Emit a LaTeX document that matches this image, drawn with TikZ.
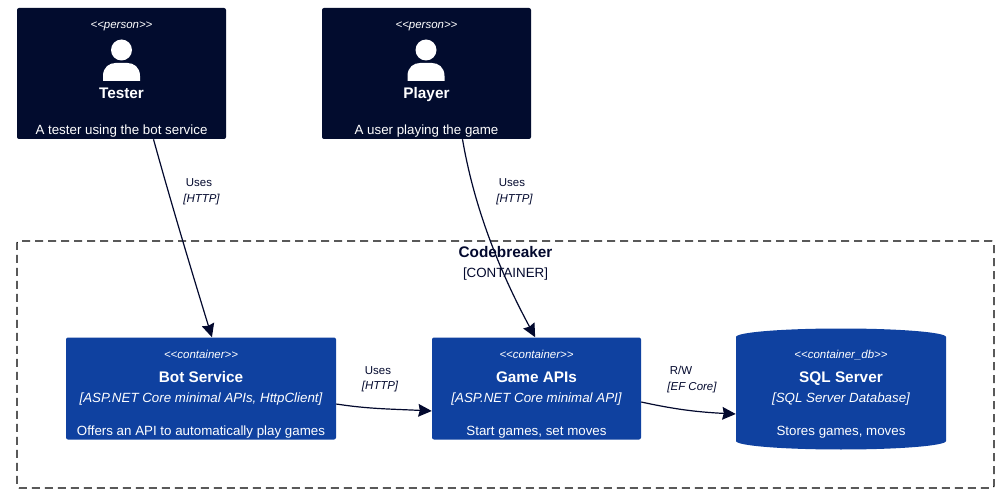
\documentclass[tikz,border=0pt]{standalone}
\usepackage{fontspec}
\setmainfont{Liberation Sans}
\usetikzlibrary{arrows.meta}
\definecolor{navy}{HTML}{020C2E}
\definecolor{cblue}{HTML}{0F41A0}
\definecolor{ink}{HTML}{03092E}
\tikzset{
  x=0.75pt,y=-0.75pt,
  label box/.style={inner sep=0pt,text height=0.73em,text depth=0.21em,yshift=-1.2pt},
  personbox/.style={fill=navy,rounded corners=1.5pt,minimum width=156.75pt,minimum height=98.25pt,inner sep=0pt},
  contbox/.style={fill=cblue,rounded corners=1.5pt,minimum height=76.5pt,inner sep=0pt},
  stereo/.style={label box,text=white,font=\fontsize{8.6}{11}\selectfont\itshape},
  titletext/.style={label box,text=white,font=\fontsize{11.5}{14}\selectfont\bfseries},
  techtext/.style={label box,text=white,font=\fontsize{10}{12}\selectfont\itshape},
  desctext/.style={label box,text=white,font=\fontsize{10}{12}\selectfont},
  rellabel/.style={label box,text=ink,font=\fontsize{8.6}{11}\selectfont},
  reltech/.style={label box,text=ink,font=\fontsize{8.6}{11}\selectfont\itshape},
  rel/.style={draw=ink,line width=0.9pt,-{Stealth[length=10pt,width=9.5pt,inset=1pt]}},
  boundary/.style={draw=black,line width=0.85pt,dash pattern=on 6pt off 3.75pt,rounded corners=1.5pt,inner sep=0pt,minimum width=732.75pt,minimum height=185.25pt},
}
\newcommand{\personicon}[1]{%
  \fill[white] (#1,50) circle (10.5);
  \fill[white] (#1-18.5,81) -- (#1-18.5,76) .. controls (#1-18.5,67) and (#1-12,63) .. (#1-6,63)
     -- (#1+6,63) .. controls (#1+12,63) and (#1+18.5,67) .. (#1+18.5,76) -- (#1+18.5,81) -- cycle;
}
\begin{document}
\begin{tikzpicture}
\useasboundingbox (0,0) rectangle (1004,499);
\fill[white] (0,0) rectangle (1004,499);
% boundary
\node[boundary] (bnd) at (505.5,364.5) {};
\node[label box,text=ink,font=\fontsize{11.5}{14}\selectfont\bfseries] (bndt) at (505.5,252.5) {Codebreaker};
\node[label box,text=ink,font=\fontsize{10}{12}\selectfont] (bnds) at (505.5,272.5) {[CONTAINER]};
% persons
\node[personbox] (tester) at (121.5,73.5) {};
\node[personbox] (player) at (426.5,73.5) {};
\personicon{121.5}
\personicon{426}
\node[stereo] (s1) at (121.5,23.5) {<{}<person>{}>};
\node[titletext] (t1) at (121.5,93) {Tester};
\node[desctext] (d1) at (121.5,129.5) {A tester using the bot service};
\node[stereo] (s2) at (426.5,23.5) {<{}<person>{}>};
\node[titletext] (t2) at (426.5,93) {Player};
\node[desctext] (d2) at (426.5,129.5) {A user playing the game};
% containers
\node[contbox,minimum width=202.5pt] (bot) at (201,388.5) {};
\node[contbox,minimum width=156.75pt] (game) at (536.5,388.5) {};
\fill[cblue] (736,337) -- (736,441) arc[start angle=180,end angle=0,x radius=105,y radius=8.5]
  -- (946,337) arc[start angle=0,end angle=-180,x radius=105,y radius=8.5] -- cycle;
\node[minimum width=157.5pt,minimum height=78pt,inner sep=0pt] (db) at (841,389) {};
\node[stereo] (s3) at (201,353.5) {<{}<container>{}>};
\node[titletext] (t3) at (201,377) {Bot Service};
\node[techtext] (k3) at (201,397) {[ASP.NET Core minimal APIs, HttpClient]};
\node[desctext] (d3) at (201,430) {Offers an API to automatically play games};
\node[stereo] (s4) at (536.5,353.5) {<{}<container>{}>};
\node[titletext] (t4) at (536.5,377) {Game APIs};
\node[techtext] (k4) at (536.5,397) {[ASP.NET Core minimal API]};
\node[desctext] (d4) at (536.5,430) {Start games, set moves};
\node[stereo] (s5) at (841,353) {<{}<container\_db>{}>};
\node[titletext] (t5) at (841,377) {SQL Server};
\node[techtext] (k5) at (841,397) {[SQL Server Database]};
\node[desctext] (d5) at (841,430) {Stores games, moves};
% relations
\draw[rel] ([xshift=24pt]tester.south) .. controls +(18,65) and +(-20,-65) .. ([xshift=8.2pt]bot.north);
\draw[rel] ([xshift=27pt]player.south) .. controls +(12,70) and +(-35,-65) .. ([xshift=-1pt]game.north);
\draw[rel] (bot.east |- 0,404) .. controls +(32,5) and +(-40,-2) .. (game.west |- 0,411);
\draw[rel] (game.east |- 0,402) .. controls +(32,7) and +(-40,-2) .. (db.west |- 0,414);
% labels
\node[rellabel] (l1) at (199,181.5) {Uses};
\node[reltech] (m1) at (201.5,197) {[HTTP]};
\node[rellabel] (l2) at (512,181.5) {Uses};
\node[reltech] (m2) at (514.5,197) {[HTTP]};
\node[rellabel] (l3) at (378,369.5) {Uses};
\node[reltech] (m3) at (380,384.5) {[HTTP]};
\node[rellabel] (l4) at (681,369.5) {R/W};
\node[reltech] (m4) at (692,385.5) {[EF Core]};
\end{tikzpicture}
\end{document}
